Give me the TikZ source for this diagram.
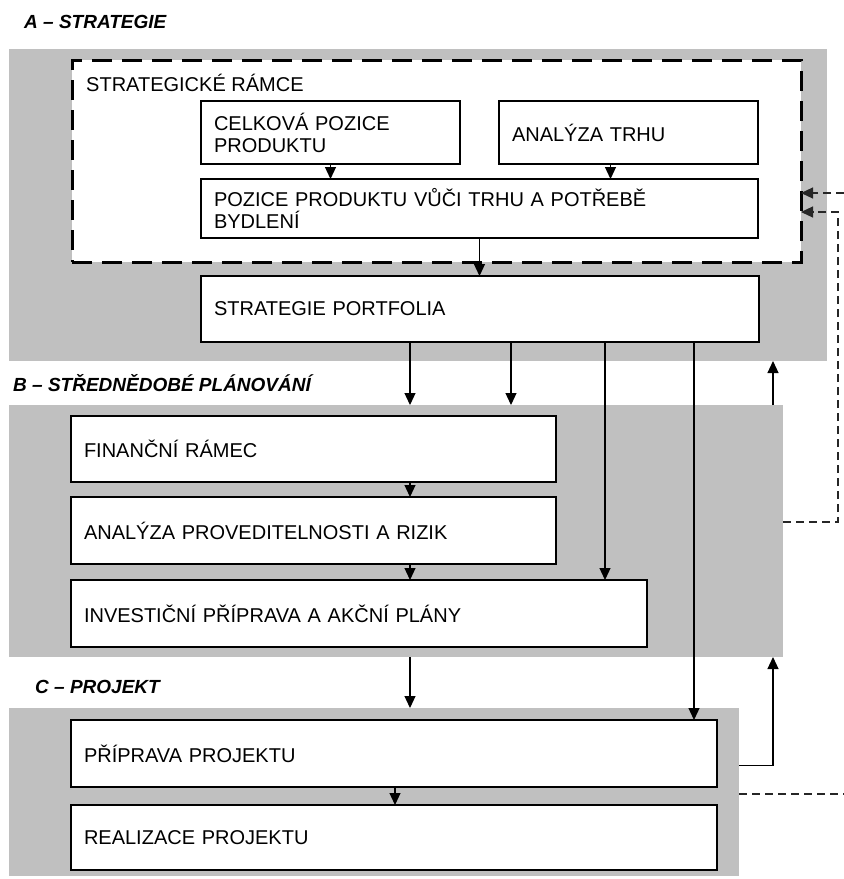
\documentclass[tikz,border=0pt]{standalone}
\usepackage{fontspec}
\setmainfont{Liberation Sans}
\usetikzlibrary{positioning,arrows.meta}
\definecolor{panelgray}{HTML}{C0C0C0}
\newcommand\blokpismo{\fontsize{20}{22}\selectfont}
\newcommand\nadpispismo{\fontsize{19}{22}\selectfont\bfseries\itshape}

\begin{document}
\begin{tikzpicture}[x=1pt,y=-1pt,
    pole/.style={fill=panelgray, anchor=north west, inner sep=0pt, outer sep=0pt},
    blok/.style={draw, line width=1.3pt, fill=white, anchor=north west, align=left,
        inner xsep=13pt, inner ysep=0pt, outer sep=0pt, font=\blokpismo},
    nadpis/.style={anchor=west, inner sep=0pt, font=\nadpispismo},
    sipka/.style={line width=1.2pt, -{Triangle[length=12pt,width=11pt]}},
    carka/.style={sipka, draw=black!85, dash pattern=on 8pt off 5pt}]
    \useasboundingbox (0,0) rectangle (844,879);

    % panels
    \node[pole, minimum width=818pt, minimum height=312pt] (A) at (9,49) {};
    \node[pole, minimum width=774pt, minimum height=252pt] (B) at (9,405) {};
    \node[pole, minimum width=730pt, minimum height=168pt] (C) at (9,708) {};

    \node[nadpis] (nA) at (24,22) {A -- STRATEGIE};
    \node[nadpis] (nB) at (13,383) {B -- STŘEDNĚDOBÉ PLÁNOVÁNÍ};
    \node[nadpis] (nC) at (35,687) {C -- PROJEKT};

    % strategicke ramce
    \node[draw, line width=3pt, dash pattern=on 20pt off 10pt, fill=white, anchor=north west,
        minimum width=729pt, minimum height=202pt, inner sep=0pt, outer sep=0pt] (ramec) at (72,60) {};
    \node[anchor=west, inner sep=0pt, font=\blokpismo] (ramectext) at (86,83) {STRATEGICKÉ RÁMCE};

    \node[blok, text width=233pt, minimum height=63pt] (celk) at (201,101) {CELKOVÁ POZICE\\PRODUKTU};
    \node[blok, text width=233pt, minimum height=63pt] (trh) at (499,101) {ANALÝZA TRHU};
    \node[blok, text width=531pt, minimum height=59pt] (pozice) at (201,179) {POZICE PRODUKTU VŮČI TRHU A POTŘEBĚ\\BYDLENÍ};
    \node[blok, text width=532pt, minimum height=66pt] (sp) at (201,276) {STRATEGIE PORTFOLIA};

    \node[blok, text width=459pt, minimum height=66pt] (fin) at (71,416) {FINANČNÍ RÁMEC};
    \node[blok, text width=459pt, minimum height=67pt] (anal) at (71,497) {ANALÝZA PROVEDITELNOSTI A RIZIK};
    \node[blok, text width=550pt, minimum height=67pt] (inv) at (71,580) {INVESTIČNÍ PŘÍPRAVA A AKČNÍ PLÁNY};

    \node[blok, text width=620pt, minimum height=67pt] (prip) at (71,720) {PŘÍPRAVA PROJEKTU};
    \node[blok, text width=620pt, minimum height=65pt] (real) at (71,805) {REALIZACE PROJEKTU};

    % x positions of the vertical connectors
    \coordinate (k1) at (410,0);
    \coordinate (k2) at (511,0);
    \coordinate (k3) at (605,0);
    \coordinate (k4) at (694,0);
    \coordinate (k5) at (773,0);
    \coordinate (k6) at (838,0);
    \coordinate (k7) at (844,0);
    \coordinate (k8) at (395,0);
    \coordinate (t) at ([xshift=-18pt]trh.south);

    \draw[sipka] (celk.south) -- (celk.south |- pozice.north);
    \draw[sipka] (t) -- (t |- pozice.north);
    \draw[sipka] (pozice.south) -- (pozice.south |- sp.north);

    \draw[sipka] (sp.south -| k1) -- (B.north -| k1);
    \draw[sipka] (sp.south -| k2) -- (B.north -| k2);
    \draw[sipka] (sp.south -| k3) -- (inv.north -| k3);
    \draw[sipka] (sp.south -| k4) -- (prip.north -| k4);

    \draw[sipka] (fin.south -| k1) -- (anal.north -| k1);
    \draw[sipka] (anal.south -| k1) -- (inv.north -| k1);
    \draw[sipka] (B.south -| k1) -- (C.north -| k1);
    \draw[sipka] (prip.south -| k8) -- (real.north -| k8);

    % feedback on the right
    \coordinate (pv) at ([yshift=-12pt]prip.east);
    \coordinate (bv) at ([yshift=9pt]B.east);
    \coordinate (r1) at ([yshift=-32pt]ramec.east);
    \coordinate (r2) at ([yshift=-51pt]ramec.east);
    \draw[sipka] (B.north -| k5) -- (A.south -| k5);
    \draw[sipka] (pv -| C.east) -| (B.south -| k5);
    \draw[carka, -] ([yshift=-2pt]C.east) -- ([yshift=-2pt]C.east -| k7);
    \draw[carka] (bv) -| (r2 -| k6) -- (r2);
    \draw[carka] (r1 -| k7) -- (r1);
\end{tikzpicture}
\end{document}
